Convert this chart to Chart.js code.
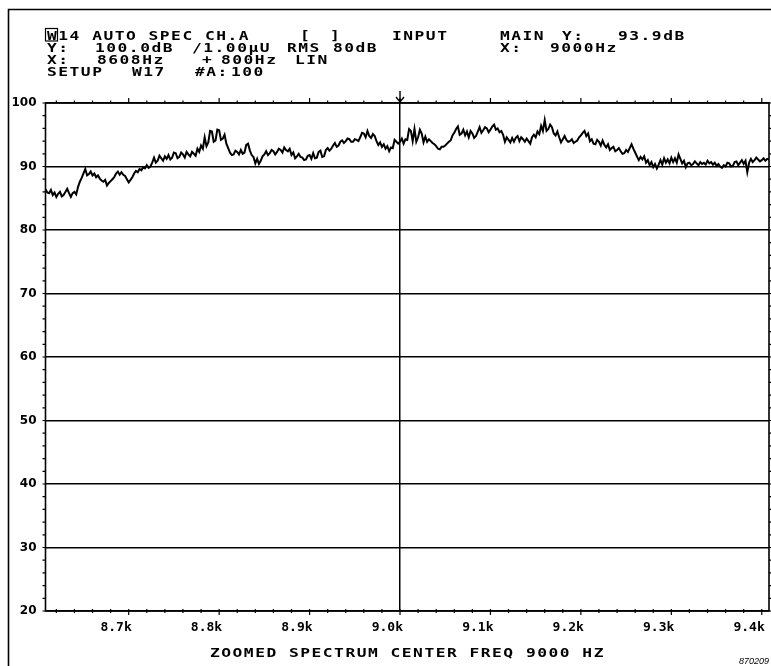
<!DOCTYPE html>
<html>
<head>
<meta charset="utf-8">
<script src="https://cdn.jsdelivr.net/npm/chart.js@4.4.1/dist/chart.umd.min.js"></script>
<style>
html,body{margin:0;padding:0;background:#fff;}
canvas{display:block;}
</style>
</head>
<body>
<canvas id="c" width="771" height="666"></canvas>
<script>
// ---- data ----
// spectrum bins: start frequency and bin spacing (from "X: 8608Hz + 800Hz")
const BIN_START_HZ = 8608;
const BIN_STEP_HZ = 2;
// level of each bin, dB
const LEVEL_DB = [
86.4,85.9,85.8,86.3,85.5,85.9,85.2,85.7,86.0,85.3,85.5,86.0,86.5,85.8,85.2,85.8,86.0,85.6,86.8,87.6,
88.2,88.9,89.6,88.6,88.8,89.2,88.6,88.9,88.3,88.6,88.1,87.8,87.6,87.9,87.0,87.4,87.7,88.0,88.3,88.9,
89.2,88.7,89.1,88.7,88.5,88.0,87.5,87.9,88.3,88.9,89.3,89.1,89.6,89.4,89.9,89.7,90.2,89.8,90.0,90.6,
91.4,90.6,90.9,91.7,91.3,90.9,91.6,91.2,
91.8,91.1,91.4,92.2,92.1,91.3,91.5,92.2,91.9,91.4,92.3,91.9,91.6,92.3,92.0,91.7,92.8,92.3,93.3,92.8,
94.6,93.2,93.8,95.6,95.5,93.9,94.1,95.8,95.7,94.2,94.4,95.0,93.6,92.9,92.2,91.8,91.9,92.5,92.3,91.9,
92.6,92.0,92.2,93.4,93.6,92.5,91.8,91.5,90.5,91.2,90.4,90.9,91.6,91.9,92.4,91.8,92.1,92.6,92.4,91.9,
92.3,92.8,92.6,92.2,93.0,92.6,
92.4,92.8,91.8,92.2,91.3,91.6,92.0,91.5,91.4,91.0,91.1,91.7,91.8,91.2,92.1,91.3,91.4,92.3,92.5,91.5,
91.6,92.6,92.9,92.5,92.8,93.3,93.7,93.1,93.3,93.9,94.1,93.7,94.0,94.4,94.3,93.9,93.9,94.3,94.2,94.0,
94.6,95.3,95.2,94.6,95.6,94.8,94.5,95.1,94.8,94.0,93.4,93.8,93.1,93.5,92.8,93.2,92.4,93.0,92.9,94.2,
93.9,93.6,93.9,94.4,
93.6,94.3,94.2,95.9,95.6,94.0,95.9,93.9,94.6,95.8,95.2,93.8,94.7,93.9,94.3,94.0,93.7,93.5,93.2,92.8,
92.7,93.1,93.1,93.3,93.6,93.9,94.1,94.9,95.3,95.9,96.3,95.0,95.2,95.8,94.9,95.5,94.6,95.6,95.2,94.5,
94.8,95.5,96.2,95.3,95.7,96.2,96.0,95.4,95.8,96.3,96.6,95.8,96.0,95.4,95.6,95.0,93.9,94.6,94.2,93.8,
94.5,93.9,94.5,94.8,94.0,94.6,94.3,93.9,
94.4,94.0,93.6,94.6,95.0,94.6,95.5,95.1,96.4,95.6,97.3,95.6,95.9,96.6,96.2,95.2,94.9,95.5,94.6,93.8,
94.3,94.8,94.2,93.9,94.0,94.3,93.7,93.9,94.1,94.6,94.9,95.3,95.6,94.8,95.2,94.0,94.3,93.6,93.5,94.2,
93.9,93.3,94.1,93.4,93.0,93.5,92.6,92.9,93.1,92.4,92.6,92.9,92.4,92.0,92.1,92.6,92.3,92.9,93.5,92.8,
92.2,91.6,91.0,91.5,91.1,91.6,
90.6,91.0,90.2,90.7,89.9,90.4,89.7,90.3,91.0,90.3,91.3,90.6,91.1,90.5,91.4,90.7,91.3,90.6,91.9,91.2,
90.5,90.9,89.9,90.5,90.6,90.2,90.4,90.8,90.5,90.2,90.7,90.4,90.6,90.3,90.9,90.5,90.7,90.3,90.6,90.1,
90.4,90.0,89.8,90.2,90.0,90.6,90.5,90.0,90.1,90.7,90.8,90.2,90.6,91.0,90.4,90.9,89.1,90.6,91.2,90.7,
91.0,91.4,91.1,90.8,91.0,91.3,90.9,91.2,91.1
];
const X_MIN_HZ = 8608, X_MAX_HZ = 9408;
const Y_MIN_DB = 20, Y_MAX_DB = 100;
const X_MINOR_TICKS = [];
for (let f = 8620; f <= 9400; f += 20) X_MINOR_TICKS.push(f);
const CURSOR_HZ = 9000;
const X_TICK_LABELS = {8700:'8.7k',8800:'8.8k',8900:'8.9k',9000:'9.0k',9100:'9.1k',9200:'9.2k',9300:'9.3k',9400:'9.4k'};
const HEADER = [
  ['W14 AUTO SPEC CH.A',47,0],['[',300,0],[']',330,0],['INPUT',392,0],['MAIN',500,0],['Y:',562,0],['93.9dB',618,0],
  ['Y:',47,1],['100.0dB',95,1],['/1.00\u00b5U',192,1],['RMS',287,1],['80dB',333,1],['X:',500,1],['9000Hz',550,1],
  ['X:',47,2],['8608Hz',97,2],['+',202,2],['800Hz',221,2],['LIN',295,2],
  ['SETUP',47,3],['W17',132,3],['#A:',195,3],['100',231,3]
];
const X_TITLE = 'ZOOMED SPECTRUM CENTER FREQ 9000 HZ';
const CORNER_ID = '870209';

const points = LEVEL_DB.map((v, i) => ({x: BIN_START_HZ + i * BIN_STEP_HZ, y: v}));

function stretchText(ctx, s, x, y, sx, ls) {
  ctx.save();
  ctx.translate(x, y);
  ctx.scale(sx, 1);
  ctx.letterSpacing = ls + 'px';
  ctx.fillText(s, 0, 0);
  ctx.restore();
}

const decor = {
  id: 'decor',
  beforeDraw(chart) {
    const c = chart.ctx;
    c.save(); c.fillStyle = '#fff'; c.fillRect(0, 0, chart.width, chart.height); c.restore();
  },
  afterDraw(chart) {
    const c = chart.ctx;
    const a = chart.chartArea;
    const xs = chart.scales.x, ys = chart.scales.y;
    c.save();
    c.strokeStyle = '#000'; c.fillStyle = '#000';
    // outer frame
    c.lineWidth = 1.6;
    c.beginPath(); c.moveTo(8.5, 666); c.lineTo(8.5, 9.5); c.lineTo(771, 9.5); c.stroke();
    // plot border
    c.lineWidth = 1.6;
    c.strokeRect(a.left, a.top, a.right - a.left, a.bottom - a.top);
    // tick marks
    c.lineWidth = 1.2;
    c.beginPath();
    xs.ticks.forEach(t => {
      const px = xs.getPixelForValue(t.value);
      const major = t.value % 100 === 0;
      c.moveTo(px, a.top); c.lineTo(px, a.top - (major ? 5 : 2.5));
      c.moveTo(px, a.bottom - 2); c.lineTo(px, a.bottom + (major ? 4 : 2));
    });
    ys.ticks.forEach(t => {
      const py = ys.getPixelForValue(t.value);
      c.moveTo(a.left - 3, py); c.lineTo(a.left, py);
      c.moveTo(a.right, py); c.lineTo(a.right + 3, py);
    });
    c.stroke();
    // cursor arrow
    const cx = xs.getPixelForValue(CURSOR_HZ);
    c.lineWidth = 1.4;
    c.beginPath();
    c.moveTo(cx, a.top - 12); c.lineTo(cx, a.top - 1);
    c.moveTo(cx - 4, a.top - 6); c.lineTo(cx, a.top - 1); c.lineTo(cx + 4, a.top - 6);
    c.stroke();
    // header text
    c.font = 'bold 13px "DejaVu Sans Mono"';
    c.textBaseline = 'alphabetic'; c.textAlign = 'left';
    const rows = [39.5, 51.5, 63.5, 75.5];
    HEADER.forEach(([s, x, r]) => stretchText(c, s, x, rows[r], 1.25, 1.2));
    // box round the first W
    c.lineWidth = 1.2;
    c.strokeRect(45.5, 28.5, 12, 12.5);
    // axis title
    stretchText(c, X_TITLE, 210, 657, 1.25, 1.2);
    // corner id
    c.font = 'italic 9px "Liberation Sans"';
    c.textAlign = 'right';
    c.fillText(CORNER_ID, 769, 664);
    c.restore();
  }
};

new Chart(document.getElementById('c'), {
  type: 'line',
  data: {
    datasets: [{
      data: points,
      borderColor: '#000',
      borderWidth: 2,
      pointRadius: 0,
      tension: 0,
      fill: false
    }]
  },
  options: {
    responsive: false,
    animation: false,
    devicePixelRatio: 1,
    events: [],
    layout: {padding: {top: 103, right: 2, left: 0, bottom: 0}},
    plugins: {legend: {display: false}, tooltip: {enabled: false}},
    scales: {
      x: {
        type: 'linear',
        min: X_MIN_HZ, max: X_MAX_HZ,
        afterBuildTicks: s => { s.ticks = X_MINOR_TICKS.map(v => ({value: v})); },
        afterFit: s => { s.height = 55; },
        border: {display: false},
        grid: {
          drawTicks: false,
          lineWidth: 1.5,
          color: ctx => (ctx.tick && ctx.tick.value === CURSOR_HZ) ? '#000' : 'rgba(0,0,0,0)'
        },
        ticks: {
          autoSkip: false,
          maxRotation: 0,
          align: 'end',
          labelOffset: 3,
          padding: 9,
          color: '#000',
          font: {family: '"DejaVu Sans Mono"', size: 13, weight: 'bold'},
          callback: v => X_TICK_LABELS[v] || ''
        }
      },
      y: {
        min: Y_MIN_DB, max: Y_MAX_DB,
        afterFit: s => { s.width = 45.5; },
        border: {display: false},
        grid: {
          drawTicks: false,
          lineWidth: 1.4,
          color: ctx => (ctx.tick && ctx.tick.value % 10 === 0) ? '#000' : 'rgba(0,0,0,0)'
        },
        ticks: {
          stepSize: 2,
          autoSkip: false,
          padding: 9,
          color: '#000',
          font: {family: '"DejaVu Sans"', size: 12, weight: 'bold'},
          callback: v => (v % 10 === 0) ? String(v) : ''
        }
      }
    }
  },
  plugins: [decor]
});
</script>
</body>
</html>
